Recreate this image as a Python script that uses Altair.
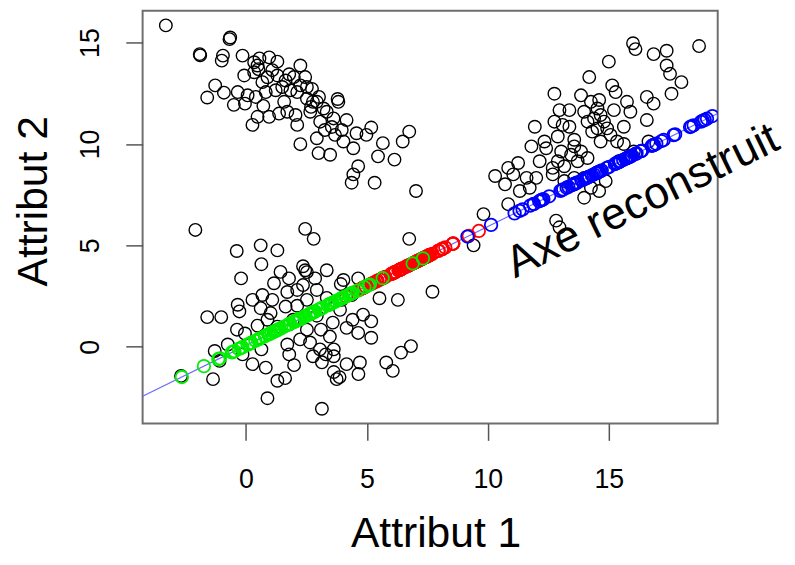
import altair as alt
import pandas as pd

# ---- data (Attribut 1, Attribut 2) ----
cluster_top_left = [
    (-3.31, 15.85), (-0.68, 15.17), (-0.65, 15.25), (-1.91, 14.43), (-1.89, 14.37), (-0.95, 14.36),
    (-1.00, 14.11), (-0.14, 14.36), (0.34, 14.03), (0.48, 13.87), (0.96, 14.27), (1.30, 14.06),
    (2.25, 13.87), (-0.07, 13.38), (0.34, 13.54), (0.89, 13.29), (1.30, 13.38), (1.64, 13.13),
    (1.98, 13.30), (2.45, 13.30), (2.73, 12.72), (-1.27, 12.89), (-1.60, 12.29), (-0.91, 12.53),
    (-0.34, 12.56), (0.07, 12.40), (-0.04, 11.99), (0.41, 12.32), (0.82, 12.56), (1.23, 12.65),
    (1.84, 12.65), (2.25, 12.89), (2.52, 12.24), (2.93, 12.08), (3.21, 11.75), (3.82, 12.08),
    (3.79, 12.22), (0.27, 10.94), (0.48, 11.34), (0.96, 11.34), (1.37, 11.50), (1.71, 11.59),
    (2.05, 11.43), (2.12, 10.94), (2.66, 11.59), (3.07, 11.10), (3.62, 11.26), (4.16, 11.18),
    (2.25, 9.99), (2.93, 10.28), (3.00, 9.55), (3.48, 9.47), (3.68, 10.45), (4.03, 10.12),
    (4.44, 9.79), (4.57, 10.53), (4.98, 10.45), (5.18, 10.81), (5.66, 10.04), (5.46, 9.39),
    (6.14, 9.23), (6.48, 10.12), (6.75, 10.61), (4.44, 8.50), (4.64, 8.90), (4.37, 8.09),
    (5.32, 8.09), (7.03, 7.68), (0.52, 13.69), (0.68, 13.05), (1.09, 13.64), (1.50, 12.81),
    (1.79, 13.44), (2.12, 12.56), (2.52, 12.81), (2.77, 12.08), (3.02, 12.32), (2.69, 11.83),
    (3.34, 11.59), (1.58, 12.08), (0.72, 11.88), (-0.50, 11.93), (0.56, 14.22), (3.55, 10.84),
    (3.96, 10.69), (3.26, 10.69),
]
cluster_bottom_left = [
    (-2.09, 5.76), (2.45, 5.81), (2.80, 5.32), (6.75, 5.32), (0.61, 5.00), (1.30, 4.75),
    (-0.38, 4.72), (0.64, 4.07), (2.45, 3.77), (2.36, 3.97), (2.52, 3.68), (2.86, 3.37),
    (-0.20, 3.37), (1.43, 3.69), (1.16, 3.13), (1.78, 3.37), (4.03, 3.29), (4.64, 3.37),
    (5.52, 2.39), (6.28, 2.31), (7.71, 2.71), (-0.34, 2.07), (-0.27, 1.74), (0.61, 1.90),
    (1.02, 1.66), (1.64, 1.98), (-1.60, 1.46), (-1.02, 1.46), (-0.37, 0.84), (-0.04, 0.65),
    (0.48, 1.04), (0.89, 1.33), (1.30, 0.99), (1.95, 1.33), (3.89, 1.82), (4.84, 1.58),
    (5.18, 1.25), (4.16, 0.93), (4.64, 0.68), (5.18, 0.44), (3.59, 1.19), (3.47, 0.50),
    (3.63, -0.13), (3.06, -0.13), (2.65, 0.21), (2.52, 0.84), (2.93, 1.53), (2.12, 2.02),
    (-1.29, -0.21), (-1.09, -0.70), (-2.68, -1.44), (-1.36, -1.60), (0.27, -0.86), (0.82, -1.03),
    (1.30, -1.68), (1.62, -1.55), (1.99, -0.91), (1.79, -0.38), (2.77, -0.47), (3.14, -0.77),
    (3.63, -0.47), (3.63, -1.25), (3.75, -1.60), (3.87, -1.50), (4.71, -0.78), (5.80, -0.78),
    (6.07, -1.19), (6.41, -0.29), (6.82, 0.03), (0.89, -2.54), (3.14, -3.06), (0.27, 2.31),
    (0.68, 2.55), (1.09, 2.31), (1.71, 2.70), (2.12, 2.80), (2.52, 2.31), (2.93, 2.80),
    (3.34, 2.41), (3.96, 2.31), (4.37, 2.55), (4.41, 1.33), (3.10, 0.84), (2.24, 0.36),
    (1.71, 0.11), (0.64, -0.13), (4.16, -0.86), (4.65, -1.35), (-0.14, -0.38), (-0.75, 0.11),
    (2.36, 3.04), (3.34, 3.77), (3.92, 3.09), (3.30, -0.38),
]
cluster_top_right = [
    (18.73, 14.83), (16.00, 14.97), (16.10, 14.68), (16.85, 14.43), (17.39, 14.60), (17.39, 13.87),
    (17.53, 13.46), (18.00, 13.05), (17.59, 12.48), (15.00, 14.06), (14.19, 13.30), (15.14, 12.89),
    (15.28, 12.56), (12.75, 12.48), (13.85, 12.40), (16.57, 12.32), (16.85, 11.99), (15.75, 12.08),
    (14.26, 12.08), (14.53, 11.75), (14.66, 11.43), (14.39, 11.26), (14.12, 11.10), (14.80, 11.10),
    (14.93, 10.77), (14.53, 10.77), (15.21, 11.67), (15.89, 11.59), (16.57, 11.18), (12.96, 11.67),
    (13.37, 11.67), (13.09, 10.94), (15.62, 10.85), (15.07, 10.45), (15.34, 10.12), (12.89, 10.37),
    (13.57, 10.21), (13.57, 9.88), (13.85, 9.63), (13.44, 9.47), (13.71, 9.15), (14.12, 9.31),
    (13.03, 9.63), (12.89, 9.15), (12.68, 8.82), (15.62, 10.00), (14.66, 10.12), (11.80, 9.88),
    (12.34, 10.12), (12.41, 9.79), (11.25, 9.06), (10.84, 8.82), (11.05, 8.50), (10.71, 8.01),
    (11.60, 8.33), (12.00, 8.33), (11.73, 7.84), (12.68, 8.50), (13.16, 8.17), (13.57, 8.33),
    (13.98, 8.33), (14.26, 7.84), (14.87, 8.17), (13.98, 7.35), (14.60, 7.68), (10.84, 7.03),
    (9.82, 6.54), (12.82, 6.22), (12.96, 5.89), (9.41, 5.00), (14.60, 12.17), (13.98, 11.59),
    (14.31, 10.61), (13.37, 10.85), (12.75, 11.10), (11.94, 10.85), (12.14, 9.15), (13.16, 8.90),
    (15.41, 9.15), (16.03, 9.63), (16.64, 10.12), (10.30, 8.42), (11.32, 7.68),
]
# reconstructed axis  y = INTERCEPT + SLOPE * x
SLOPE = 0.587
INTERCEPT = 0.06
AXIS_LABEL = "Axe reconstruit"
X_TITLE = "Attribut 1"
Y_TITLE = "Attribut 2"
TICKS = [0, 5, 10, 15]
X_DOMAIN = [-4.27, 19.5]
Y_DOMAIN = [-3.79, 16.57]

FONT = "Liberation Sans, Arial, sans-serif"

groups = [("rouge", cluster_top_left), ("vert", cluster_bottom_left), ("bleu", cluster_top_right)]

rows = []
proj = []
for name, pts in groups:
    for (px, py) in pts:
        rows.append({"x": px, "y": py})
        t = (px + SLOPE * (py - INTERCEPT)) / (1 + SLOPE ** 2)
        proj.append({"x": t, "y": INTERCEPT + SLOPE * t, "g": name})
black_df = pd.DataFrame(rows)
proj_df = pd.DataFrame(proj)
line_df = pd.DataFrame({"x": X_DOMAIN})
line_df["y"] = INTERCEPT + SLOPE * line_df["x"]

xs = alt.Scale(domain=X_DOMAIN, nice=False, zero=False)
ys = alt.Scale(domain=Y_DOMAIN, nice=False, zero=False)
x_axis = alt.Axis(values=TICKS, title=X_TITLE, labelBaseline="alphabetic", labelPadding=48,
                  titleX=296, titleY=124, titleAlign="center", titleBaseline="alphabetic")
y_axis = alt.Axis(values=TICKS, title=Y_TITLE, labelAngle=270, labelAlign="center",
                  labelBaseline="alphabetic", labelPadding=28,
                  titleAngle=270, titleX=-97, titleY=192, titleAlign="center",
                  titleBaseline="alphabetic")
X = alt.X("x:Q", scale=xs, axis=x_axis)
Y = alt.Y("y:Q", scale=ys, axis=y_axis)

pts = alt.Chart(black_df).mark_point(shape="circle", filled=False, size=160, strokeWidth=1.4,
                                     opacity=1, color="black").encode(x=X, y=Y)
line = alt.Chart(line_df).mark_line(color="#6a6aff", strokeWidth=1.2, clip=True).encode(x=X, y=Y)
projs = alt.Chart(proj_df).mark_point(shape="circle", filled=False, size=160, strokeWidth=1.8,
                                      opacity=1, clip=True).encode(
    x=X, y=Y,
    color=alt.Color("g:N", scale=alt.Scale(domain=["rouge", "vert", "bleu"],
                                           range=["#ff0000", "#00ee00", "#0000ff"]), legend=None),
)
label = alt.Chart(pd.DataFrame({"label": [AXIS_LABEL]})).mark_text(
    align="left", baseline="alphabetic", angle=334, fontSize=45, font=FONT, color="black"
).encode(x=alt.datum(11.12), y=alt.datum(3.37), text="label:N")

chart = alt.layer(pts, line, projs, label).properties(
    width=581, height=417,
    autosize=alt.AutoSizeParams(type="none"),
    padding={"left": 136, "top": 0, "right": 70, "bottom": 130},
).configure_view(stroke="#6e6e6e", strokeWidth=2).configure_axis(
    grid=False, domain=False, ticks=True, tickSize=17, tickColor="#555555", tickWidth=1.5,
    labelFont=FONT, labelFontSize=27, labelColor="black",
    titleFont=FONT, titleFontSize=43, titleFontWeight="normal", titleColor="black",
)

chart.save("out.html", embed_options={"renderer": "svg", "actions": False})
